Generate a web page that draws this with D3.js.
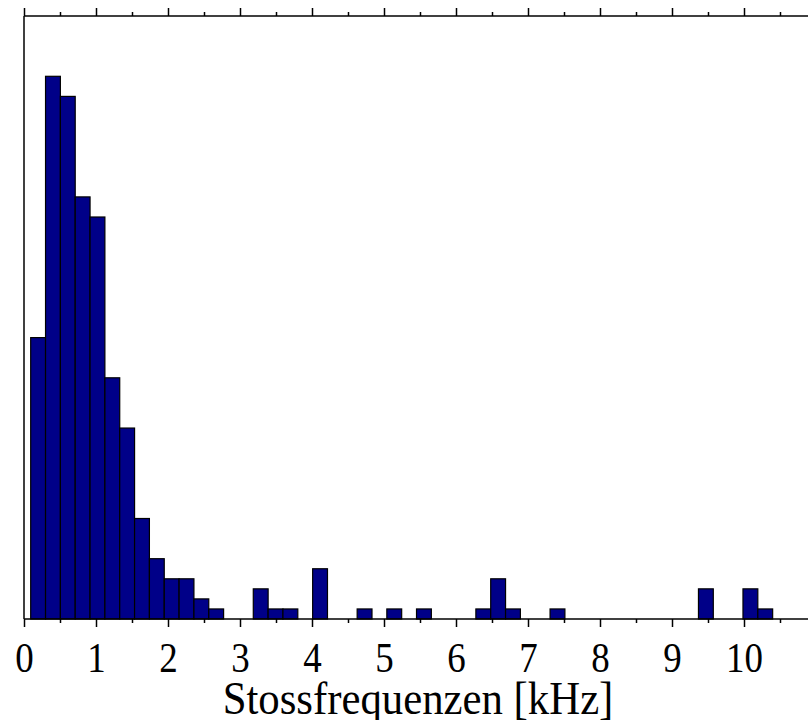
<!DOCTYPE html>
<html>
<head>
<meta charset="utf-8">
<script src="https://cdn.jsdelivr.net/npm/d3@7"></script>
<style>
  html, body { margin: 0; padding: 0; background: #fff; }
  svg { display: block; }
</style>
</head>
<body>
<svg id="chart" width="808" height="720"></svg>
<script>
// ---- data ----
const binStartKHz = 0.093;      // lower edge of first bin (kHz)
const binWidthKHz = 0.2061;     // bin width (kHz)
const counts = [28,54,52,42,40,24,19,10,6,4,4,2,1,0,0,3,1,1,0,5,0,0,1,0,1,0,1,0,0,0,1,4,1,0,0,1,0,0,0,0,0,0,0,0,0,3,0,0,3,1];
const majorTicks = [0,1,2,3,4,5,6,7,8,9,10,11];
const minorTicks = [0.5,1.5,2.5,3.5,4.5,5.5,6.5,7.5,8.5,9.5,10.5];
const tickLabels = ["0","1","2","3","4","5","6","7","8","9","10"];
const xTitle = "Stossfrequenzen [kHz]";

(function () {
  const svg = d3.select("#chart");
  const pL = 24, pR = 816, pT = 16, pB = 619;
  const x = d3.scaleLinear().domain([0, 11]).range([pL, pR]);
  const y = d3.scaleLinear().domain([0, 60]).range([pB, pT]);

  const bins = counts.map((c, i) => ({
    x0: binStartKHz + i * binWidthKHz,
    x1: binStartKHz + (i + 1) * binWidthKHz,
    c
  }));

  // bars
  svg.append("g").selectAll("rect")
    .data(bins.filter(d => d.c > 0))
    .join("rect")
    .attr("x", d => x(d.x0))
    .attr("width", d => x(d.x1) - x(d.x0))
    .attr("y", d => y(d.c))
    .attr("height", d => y(0) - y(d.c))
    .attr("fill", "#000088")
    .attr("stroke", "#000")
    .attr("stroke-width", 1.2);

  function styleAxis(g) {
    g.select(".domain").remove();
    g.selectAll(".tick line").attr("stroke", "#000").attr("stroke-width", 1.5);
  }

  // bottom major
  const gb = svg.append("g").attr("transform", `translate(0,${pB})`)
    .call(d3.axisBottom(x).tickValues(majorTicks).tickSize(8).tickFormat(""));
  styleAxis(gb);
  gb.selectAll(".tick text").remove();
  gb.selectAll(".tick").filter((d, i) => i < tickLabels.length).append("text")
    .attr("transform", "translate(0,53) scale(0.88,1)")
    .attr("text-anchor", "middle")
    .attr("fill", "#000")
    .style("font-family", "'Liberation Serif', 'Times New Roman', serif")
    .style("font-size", "42px")
    .text((d, i) => tickLabels[i]);
  // bottom minor
  const gbm = svg.append("g").attr("transform", `translate(0,${pB})`)
    .call(d3.axisBottom(x).tickValues(minorTicks).tickSize(4).tickFormat(""));
  styleAxis(gbm);
  // top major/minor
  const gt = svg.append("g").attr("transform", `translate(0,${pT})`)
    .call(d3.axisTop(x).tickValues(majorTicks).tickSize(8).tickFormat(""));
  styleAxis(gt);
  const gtm = svg.append("g").attr("transform", `translate(0,${pT})`)
    .call(d3.axisTop(x).tickValues(minorTicks).tickSize(4).tickFormat(""));
  styleAxis(gtm);

  // frame lines
  svg.append("line").attr("x1", pL).attr("x2", pR).attr("y1", pB).attr("y2", pB)
    .attr("stroke", "#000").attr("stroke-width", 1.5);
  svg.append("line").attr("x1", pL).attr("x2", pR).attr("y1", pT).attr("y2", pT)
    .attr("stroke", "#000").attr("stroke-width", 1.5);
  svg.append("line").attr("x1", pL).attr("x2", pL).attr("y1", pT).attr("y2", pB)
    .attr("stroke", "#000").attr("stroke-width", 1.5);

  // title
  svg.append("text")
    .attr("transform", `translate(${(pL + pR) / 2 - 2},714) scale(0.93,1)`)
    .attr("text-anchor", "middle")
    .attr("fill", "#000")
    .style("font-family", "'Liberation Serif', 'Times New Roman', serif")
    .style("font-size", "46px")
    .text(xTitle);
})();
</script>
</body>
</html>
